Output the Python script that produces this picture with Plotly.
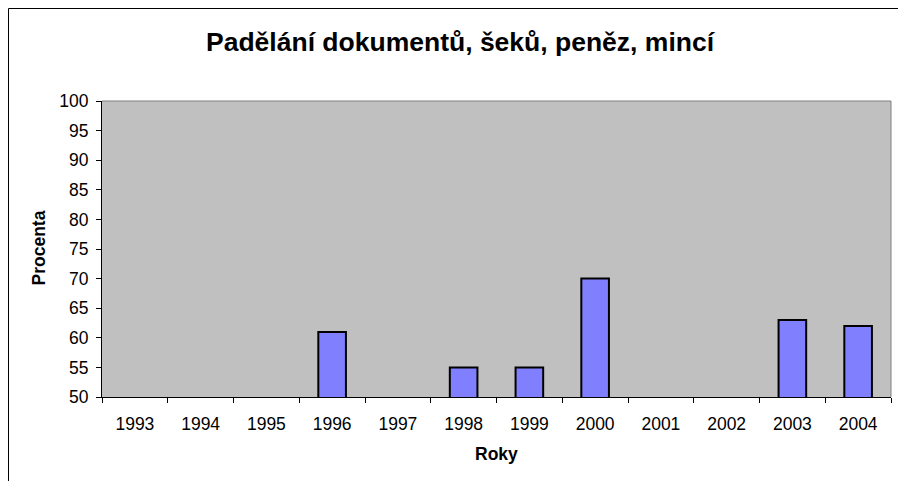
import plotly.graph_objects as go

years = ["1993", "1994", "1995", "1996", "1997", "1998", "1999", "2000", "2001", "2002", "2003", "2004"]
values = [None, None, None, 61, None, 55, 55, 70, None, None, 63, 62]
title_text = "Padělání dokumentů, šeků, peněz, mincí"
x_title = "Roky"
y_title = "Procenta"

W, H = 898, 481
L, R, T, B = 102, 7, 101, 84
pw, ph = W - L - R, H - T - B

def px(x):
    return (x - L) / pw

def py(y):
    return (H - B - y) / ph

FONT = "Liberation Sans, Arial, sans-serif"

fig = go.Figure(go.Bar(
    x=years, y=values, base=0,
    marker=dict(color="#8080FF", line=dict(color="black", width=2)),
    width=0.42,
))

fig.update_layout(
    width=W, height=H,
    margin=dict(l=L, r=R, t=T, b=B),
    paper_bgcolor="white",
    plot_bgcolor="#C0C0C0",
    showlegend=False,
    font=dict(family=FONT, color="black", size=17),
    xaxis=dict(
        type="category", tickson="boundaries", ticks="outside", ticklen=5,
        tickcolor="black", showline=True, linecolor="black", linewidth=1,
        showgrid=False, tickfont=dict(size=17.5), ticklabelstandoff=11,
    ),
    yaxis=dict(
        range=[50, 100], dtick=5, ticks="outside", ticklen=5, tickcolor="black",
        showline=True, linecolor="black", linewidth=1, showgrid=False,
        zeroline=False, tickfont=dict(size=17.5), ticklabelstandoff=4,
    ),
    annotations=[
        dict(text="<b>" + title_text + "</b>", x=px(461), y=py(42),
             xref="paper", yref="paper", showarrow=False,
             font=dict(size=26.5, family=FONT), xanchor="center", yanchor="middle"),
        dict(text="<b>" + x_title + "</b>", x=px(496.5), y=py(454),
             xref="paper", yref="paper", showarrow=False,
             font=dict(size=17.5, family=FONT), xanchor="center", yanchor="middle"),
        dict(text="<b>" + y_title + "</b>", x=px(38.5), y=py(248),
             xref="paper", yref="paper", showarrow=False, textangle=-90,
             font=dict(size=17.5, family=FONT), xanchor="center", yanchor="middle"),
    ],
    shapes=[
        dict(type="rect", xref="paper", yref="paper",
             x0=px(8.5), x1=px(960), y0=py(8.5), y1=py(540),
             line=dict(color="black", width=1)),
        dict(type="line", xref="paper", yref="paper", x0=0, x1=1, y0=1, y1=1,
             line=dict(color="#808080", width=1)),
        dict(type="line", xref="paper", yref="paper", x0=1, x1=1, y0=0, y1=1,
             line=dict(color="#808080", width=1)),
    ],
)

fig.write_html("out.html", config={"displayModeBar": False},
               post_script="document.body.style.margin='0';document.body.style.overflow='hidden';")
